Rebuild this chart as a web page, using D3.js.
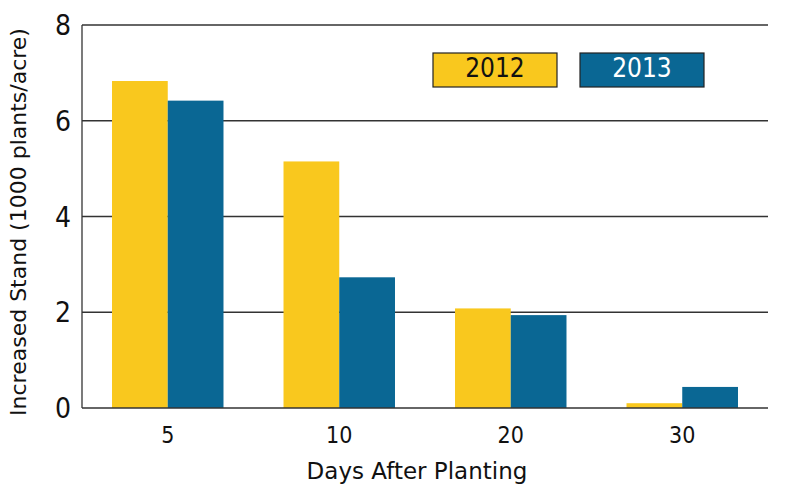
<!DOCTYPE html>
<html><head><meta charset="utf-8">
<script src="https://cdn.jsdelivr.net/npm/d3@7"></script>
<style>body{margin:0;background:#fff;}svg{display:block;font-family:"DejaVu Sans",Verdana,sans-serif;}</style>
</head><body><svg id="c" width="800" height="490"></svg>
<script>
const categories = ["5","10","20","30"];
const seriesNames = ["2012","2013"];
const values2012 = [6.83, 5.15, 2.08, 0.10];
const values2013 = [6.42, 2.73, 1.94, 0.44];
const yTicks = [0,2,4,6,8];
const colors = ["#F9C81E","#0A6794"];

const svg = d3.select("#c");
const m = {l:82, r:32, t:25, b:82};
const W = 800, H = 490;
const x = d3.scaleBand().domain(categories).range([m.l, W-m.r]).paddingInner(0.35).paddingOuter(0.175);
const xs = d3.scaleBand().domain(seriesNames).range([0, x.bandwidth()]);
const y = d3.scaleLinear().domain([0,8]).range([H-m.b, m.t]);
const numFont = "'DejaVu Sans Condensed','DejaVu Sans',sans-serif";

// gridlines
svg.append("g").selectAll("line").data(yTicks.filter(d=>d>0)).join("line")
  .attr("x1", m.l).attr("x2", W-m.r).attr("y1", d=>y(d)).attr("y2", d=>y(d))
  .attr("stroke","#333").attr("stroke-width",1.3);

const data = categories.map((c,i)=>({c, v:[values2012[i], values2013[i]]}));
svg.append("g").selectAll("g").data(data).join("g")
  .attr("transform", d=>`translate(${x(d.c)},0)`)
  .selectAll("rect").data(d=>d.v.map((v,j)=>({v, s:seriesNames[j], j}))).join("rect")
  .attr("x", d=>xs(d.s)).attr("width", xs.bandwidth())
  .attr("y", d=>y(d.v)).attr("height", d=>y(0)-y(d.v))
  .attr("fill", d=>colors[d.j]);

// axes lines
svg.append("line").attr("x1",m.l).attr("x2",m.l).attr("y1",m.t).attr("y2",y(0)).attr("stroke","#333").attr("stroke-width",1.3);
svg.append("line").attr("x1",m.l).attr("x2",W-m.r).attr("y1",y(0)).attr("y2",y(0)).attr("stroke","#333").attr("stroke-width",1.3);

// y tick labels
svg.append("g").selectAll("text").data(yTicks).join("text")
  .attr("x", m.l-11).attr("y", d=>y(d)).attr("dy","0.36em")
  .attr("text-anchor","end").attr("font-family",numFont).attr("font-size",28).attr("fill","#111").text(d=>d);

// x tick labels
svg.append("g").selectAll("text").data(categories).join("text")
  .attr("x", d=>x(d)+x.bandwidth()/2).attr("y", 443)
  .attr("text-anchor","middle").attr("font-family",numFont).attr("font-size",23).attr("fill","#111").text(d=>d);

// titles
svg.append("text").attr("x", 417).attr("y", 479).attr("text-anchor","middle")
  .attr("font-size",23).attr("fill","#111").text("Days After Planting");
svg.append("text").attr("transform","translate(26,222) rotate(-90)").attr("text-anchor","middle")
  .attr("font-size",22).attr("fill","#111").text("Increased Stand (1000 plants/acre)");

// legend
const lg = [{x:433},{x:580}];
seriesNames.forEach((s,i)=>{
  svg.append("rect").attr("x",lg[i].x).attr("y",53).attr("width",124).attr("height",34)
    .attr("fill",colors[i]).attr("stroke","#222").attr("stroke-width",1.2);
  svg.append("text").attr("x",lg[i].x+62).attr("y",68).attr("dy","0.36em").attr("text-anchor","middle")
    .attr("font-family",numFont).attr("font-size",26).attr("fill", i===0?"#111":"#fff").text(s);
});
</script></body></html>
